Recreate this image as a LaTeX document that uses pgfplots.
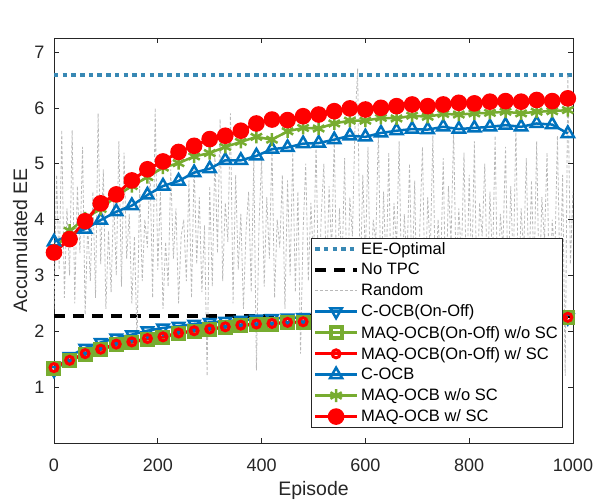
\documentclass[border=0pt]{standalone}
\usepackage{fontspec}
\setmainfont{Liberation Sans}
\usepackage{pgfplots}
\pgfplotsset{compat=1.18}
\definecolor{mblue}{RGB}{0,114,189}
\definecolor{mgreen}{RGB}{119,172,48}
\definecolor{mred}{RGB}{255,0,0}
\definecolor{eeopt}{RGB}{56,136,180}
\definecolor{axgray}{RGB}{38,38,38}

\begin{document}
\begin{tikzpicture}
\path[use as bounding box] (-54pt,-56pt) rectangle (541pt,443pt);
\begin{axis}[
  at={(0,0)}, anchor=south west,
  scale only axis, width=519pt, height=405pt,
  xmin=0, xmax=1000, ymin=0, ymax=7.25,
  xtick={0,200,...,1000}, ytick={1,...,7},
  tick align=inside, major tick length=5pt,
  axis line style={axgray, line width=0.6pt},
  tick style={axgray, line width=0.6pt},
  ticklabel style={font=\fontsize{18}{18}\selectfont, text=axgray},
  /pgf/number format/assume math mode=true,
  /pgf/number format/1000 sep={},
  xticklabel style={yshift=-12pt},
  yticklabel style={xshift=-6pt},
  xlabel={Episode}, ylabel={Accumulated EE},
  label style={font=\fontsize{19.5}{20}\selectfont, text=axgray},
  xlabel style={at={(axis description cs:0.5,-0.116)}, anchor=center},
  ylabel style={at={(axis description cs:-0.065,0.5)}, anchor=center},
  legend style={at={(rel axis cs:0.979,0.506)}, anchor=north east,
    font=\fontsize{16.5}{19}\selectfont, draw=axgray, fill=white,
    row sep=3.6pt, inner sep=2pt},
  legend cell align=left,
  legend image code/.code={\draw[mark repeat=2,mark phase=2,#1] plot coordinates {(0pt,0pt) (21pt,0pt) (42pt,0pt)};},
]
% EE-Optimal
\addplot[eeopt, line width=4pt, dash pattern=on 4.5pt off 4.2pt] coordinates {(0,6.58) (1000,6.58)};
% No TPC
\addplot[black, line width=3.5pt, dash pattern=on 11pt off 8pt] coordinates {(0,2.27) (1000,2.27)};
% Random
\addplot[gray!55, line width=0.8pt, dash pattern=on 3pt off 2pt] coordinates {
(0,2.4)(5,4.8)(10,3.1)(15,5.6)(20,2.6)(25,4.2)(30,3.0)(35,5.6)(40,2.5)(45,4.6)
(50,3.4)(55,5.3)(60,2.3)(65,3.9)(70,2.9)(75,4.5)(80,2.6)(85,5.9)(90,3.2)(95,4.9)
(100,2.4)(105,3.8)(110,2.7)(115,4.4)(120,3.0)(125,5.4)(130,2.8)(135,5.2)(140,3.3)(145,4.1)
(150,2.5)(155,3.7)(160,1.8)(165,4.6)(170,2.9)(175,4.0)(180,3.5)(185,5.0)(190,2.6)(195,6.0)
(200,3.1)(205,4.5)(210,2.4)(215,3.6)(220,2.8)(225,4.9)(230,3.3)(235,4.2)(240,2.5)(245,3.7)
(250,4.0)(255,2.9)(260,4.7)(265,2.6)(270,5.0)(275,3.2)(280,4.4)(285,2.7)(290,3.9)(295,1.2)
(300,4.6)(305,2.8)(310,5.2)(315,3.4)(320,5.8)(325,2.9)(330,4.3)(335,3.6)(340,5.9)(345,2.5)
(350,4.8)(355,3.1)(360,4.1)(365,2.4)(370,3.8)(375,4.5)(380,2.7)(385,5.1)(390,1.3)(395,3.9)
(400,5.1)(405,2.8)(410,4.4)(415,3.3)(420,5.3)(425,2.6)(430,4.0)(435,3.5)(440,4.8)(445,2.4)
(450,4.7)(455,3.0)(460,5.2)(465,2.7)(470,4.5)(475,1.6)(480,3.8)(485,5.0)(490,2.9)(495,4.3)
(500,3.2)(505,5.4)(510,2.5)(515,4.1)(520,5.0)(525,2.8)(530,4.6)(535,3.4)(540,5.5)(545,2.6)
(550,4.2)(555,3.1)(560,5.1)(565,2.4)(570,4.4)(575,3.7)(580,5.7)(585,6.7)(590,2.8)(595,4.8)
(600,3.3)(605,5.3)(610,2.5)(615,4.0)(620,3.6)(625,5.6)(630,2.7)(635,4.5)(640,3.0)(645,5.2)
(650,2.4)(655,4.3)(660,3.5)(665,5.4)(670,2.6)(675,4.1)(680,3.2)(685,5.0)(690,2.8)(695,4.7)
(700,1.9)(705,3.9)(710,5.3)(715,2.5)(720,4.4)(725,3.4)(730,5.5)(735,2.7)(740,4.0)(745,3.1)
(750,5.1)(755,2.4)(760,4.6)(765,3.6)(770,5.6)(775,2.9)(780,4.2)(785,3.3)(790,5.2)(795,2.6)
(800,4.8)(805,3.0)(810,5.4)(815,2.5)(820,4.3)(825,3.7)(830,5.0)(835,2.8)(840,4.5)(845,3.2)
(850,5.5)(855,2.4)(860,4.1)(865,3.5)(870,5.3)(875,2.7)(880,4.6)(885,3.1)(890,5.7)(895,2.5)
(900,4.2)(905,3.4)(910,5.1)(915,2.9)(920,4.7)(925,3.0)(930,5.4)(935,2.6)(940,4.4)(945,3.6)
(950,5.2)(955,2.3)(960,4.0)(965,3.3)(970,5.5)(975,2.8)(980,4.8)(985,1.2)(990,6.6)(995,3.2)
(1000,4.5)};
% C-OCB(On-Off)
\addplot[mblue, line width=2.5pt, mark=triangle, mark size=6.5pt, mark options={rotate=180}] coordinates {
(0,1.30)(30,1.55)(60,1.70)(90,1.80)(120,1.88)(150,1.94)(180,2.01)(210,2.06)(240,2.09)(270,2.13)
(300,2.16)(330,2.18)(360,2.20)(390,2.22)(420,2.23)(450,2.24)(480,2.25)(510,2.25)(540,2.25)(570,2.25)
(600,2.25)(630,2.25)(660,2.25)(690,2.25)(720,2.25)(750,2.25)(780,2.25)(810,2.25)(840,2.25)(870,2.25)
(900,2.25)(930,2.25)(960,2.25)(990,2.24)};
% MAQ-OCB(On-Off) w/o SC
\addplot[mgreen, line width=3pt, mark=square, mark size=5.5pt, mark options={line width=4pt}] coordinates {
(0,1.34)(30,1.47)(60,1.59)(90,1.67)(120,1.76)(150,1.80)(180,1.86)(210,1.89)(240,1.96)(270,2.00)
(300,2.03)(330,2.07)(360,2.10)(390,2.12)(420,2.13)(450,2.15)(480,2.16)(510,2.17)(540,2.18)(570,2.18)
(600,2.19)(630,2.19)(660,2.20)(690,2.20)(720,2.21)(750,2.21)(780,2.22)(810,2.22)(840,2.22)(870,2.23)
(900,2.23)(930,2.23)(960,2.24)(990,2.24)};
% MAQ-OCB(On-Off) w/ SC
\addplot[mred, line width=3pt, mark=o, mark size=4pt] coordinates {
(0,1.35)(30,1.48)(60,1.60)(90,1.68)(120,1.77)(150,1.81)(180,1.87)(210,1.90)(240,1.97)(270,2.01)
(300,2.04)(330,2.08)(360,2.11)(390,2.13)(420,2.14)(450,2.16)(480,2.17)(510,2.18)(540,2.19)(570,2.19)
(600,2.20)(630,2.20)(660,2.21)(690,2.21)(720,2.22)(750,2.22)(780,2.23)(810,2.23)(840,2.23)(870,2.24)
(900,2.24)(930,2.24)(960,2.25)(990,2.25)};
% C-OCB
\addplot[mblue, line width=2.5pt, mark=triangle, mark size=7pt] coordinates {
(0,3.60)(30,3.72)(60,3.83)(90,3.99)(120,4.14)(150,4.25)(180,4.44)(210,4.60)(240,4.69)(270,4.84)
(300,4.91)(330,5.06)(360,5.06)(390,5.14)(420,5.26)(450,5.29)(480,5.36)(510,5.37)(540,5.43)(570,5.50)
(600,5.48)(630,5.55)(660,5.59)(690,5.62)(720,5.61)(750,5.66)(780,5.62)(810,5.64)(840,5.66)(870,5.69)
(900,5.66)(930,5.72)(960,5.70)(990,5.54)};
% MAQ-OCB w/o SC
\addplot[mgreen, line width=2.5pt, mark=asterisk, mark size=6.5pt] coordinates {
(0,3.45)(30,3.80)(60,4.02)(90,4.19)(120,4.42)(150,4.60)(180,4.76)(210,4.93)(240,5.01)(270,5.13)
(300,5.19)(330,5.30)(360,5.39)(390,5.48)(420,5.43)(450,5.58)(480,5.64)(510,5.63)(540,5.72)(570,5.77)
(600,5.77)(630,5.82)(660,5.81)(690,5.86)(720,5.84)(750,5.89)(780,5.88)(810,5.90)(840,5.91)(870,5.93)
(900,5.90)(930,5.93)(960,5.94)(990,5.96)};
% MAQ-OCB w/ SC
\addplot[mred, line width=3pt, mark=*, mark size=6.8pt] coordinates {
(0,3.41)(30,3.65)(60,3.97)(90,4.29)(120,4.45)(150,4.70)(180,4.90)(210,5.04)(240,5.21)(270,5.32)
(300,5.44)(330,5.50)(360,5.59)(390,5.72)(420,5.79)(450,5.78)(480,5.85)(510,5.88)(540,5.94)(570,5.99)
(600,5.97)(630,6.00)(660,6.03)(690,6.06)(720,6.03)(750,6.06)(780,6.09)(810,6.08)(840,6.11)(870,6.12)
(900,6.11)(930,6.14)(960,6.12)(990,6.17)};
\legend{EE-Optimal,No TPC,Random,C-OCB(On-Off),MAQ-OCB(On-Off) w/o SC,MAQ-OCB(On-Off) w/ SC,C-OCB,MAQ-OCB w/o SC,MAQ-OCB w/ SC}
\node[anchor=south west, inner sep=0pt, font=\fontsize{18}{18}\selectfont, text=axgray, yshift=4pt] at (rel axis cs:0,1) {\texttimes10\textsuperscript{7}};
\end{axis}
\end{tikzpicture}
\end{document}
